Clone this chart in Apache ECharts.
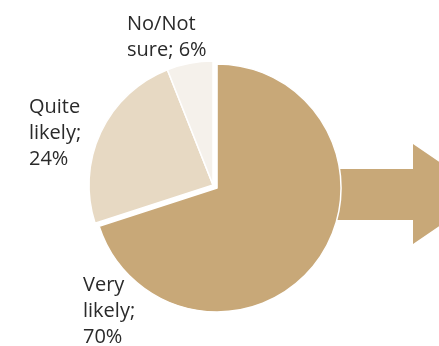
<!DOCTYPE html>
<html>
<head>
<meta charset="utf-8">
<script src="https://cdn.jsdelivr.net/npm/echarts@6/dist/echarts.min.js"></script>
<style>
html,body{margin:0;padding:0;background:#fff;}
#c{width:439px;height:346px;}
</style>
</head>
<body>
<div id="c"></div>
<script>
var categories = ['Very likely', 'Quite likely', 'No/Not sure'];
var values = [70, 24, 6];
var colors = ['#c8a878', '#e7d9c3', '#f5f1eb'];
var labelBreaks = [['Very', 'likely;', '\n'], ['Quite', 'likely;', '\n'], ['No/Not', 'sure;', ' ']];
var labelAnchors = [[83, 272], [29, 94], [127, 11]];

var chart = echarts.init(document.getElementById('c'), null, {renderer: 'canvas'});
var total = values.reduce(function (a, b) { return a + b; }, 0);
var data = categories.map(function (c, i) {
  return {
    name: c,
    value: values[i],
    selected: i === 0,
    itemStyle: {color: colors[i]}
  };
});
var labelGraphics = categories.map(function (c, i) {
  var b = labelBreaks[i];
  return {
    type: 'text',
    z: 5,
    left: labelAnchors[i][0],
    top: labelAnchors[i][1],
    style: {
      text: b[0] + '\n' + b[1] + b[2] + Math.round(values[i] / total * 100) + '%',
      fill: '#2a2a2a',
      font: '20px "Open Sans"',
      lineHeight: 26
    }
  };
});
chart.setOption({
  animation: false,
  backgroundColor: '#fff',
  graphic: [{
    type: 'polygon',
    z: 0,
    shape: {points: [[300, 169], [413, 169], [413, 144], [486, 194], [413, 244], [413, 220], [300, 220]]},
    style: {fill: '#c8a878'}
  }].concat(labelGraphics),
  series: [{
    type: 'pie',
    z: 2,
    center: [213, 185],
    radius: 124,
    startAngle: 90,
    clockwise: true,
    selectedMode: 'single',
    selectedOffset: 5,
    itemStyle: {borderColor: '#fff', borderWidth: 1.5},
    emphasis: {disabled: true},
    label: {show: false},
    labelLine: {show: false},
    data: data
  }]
});
</script>
</body>
</html>
